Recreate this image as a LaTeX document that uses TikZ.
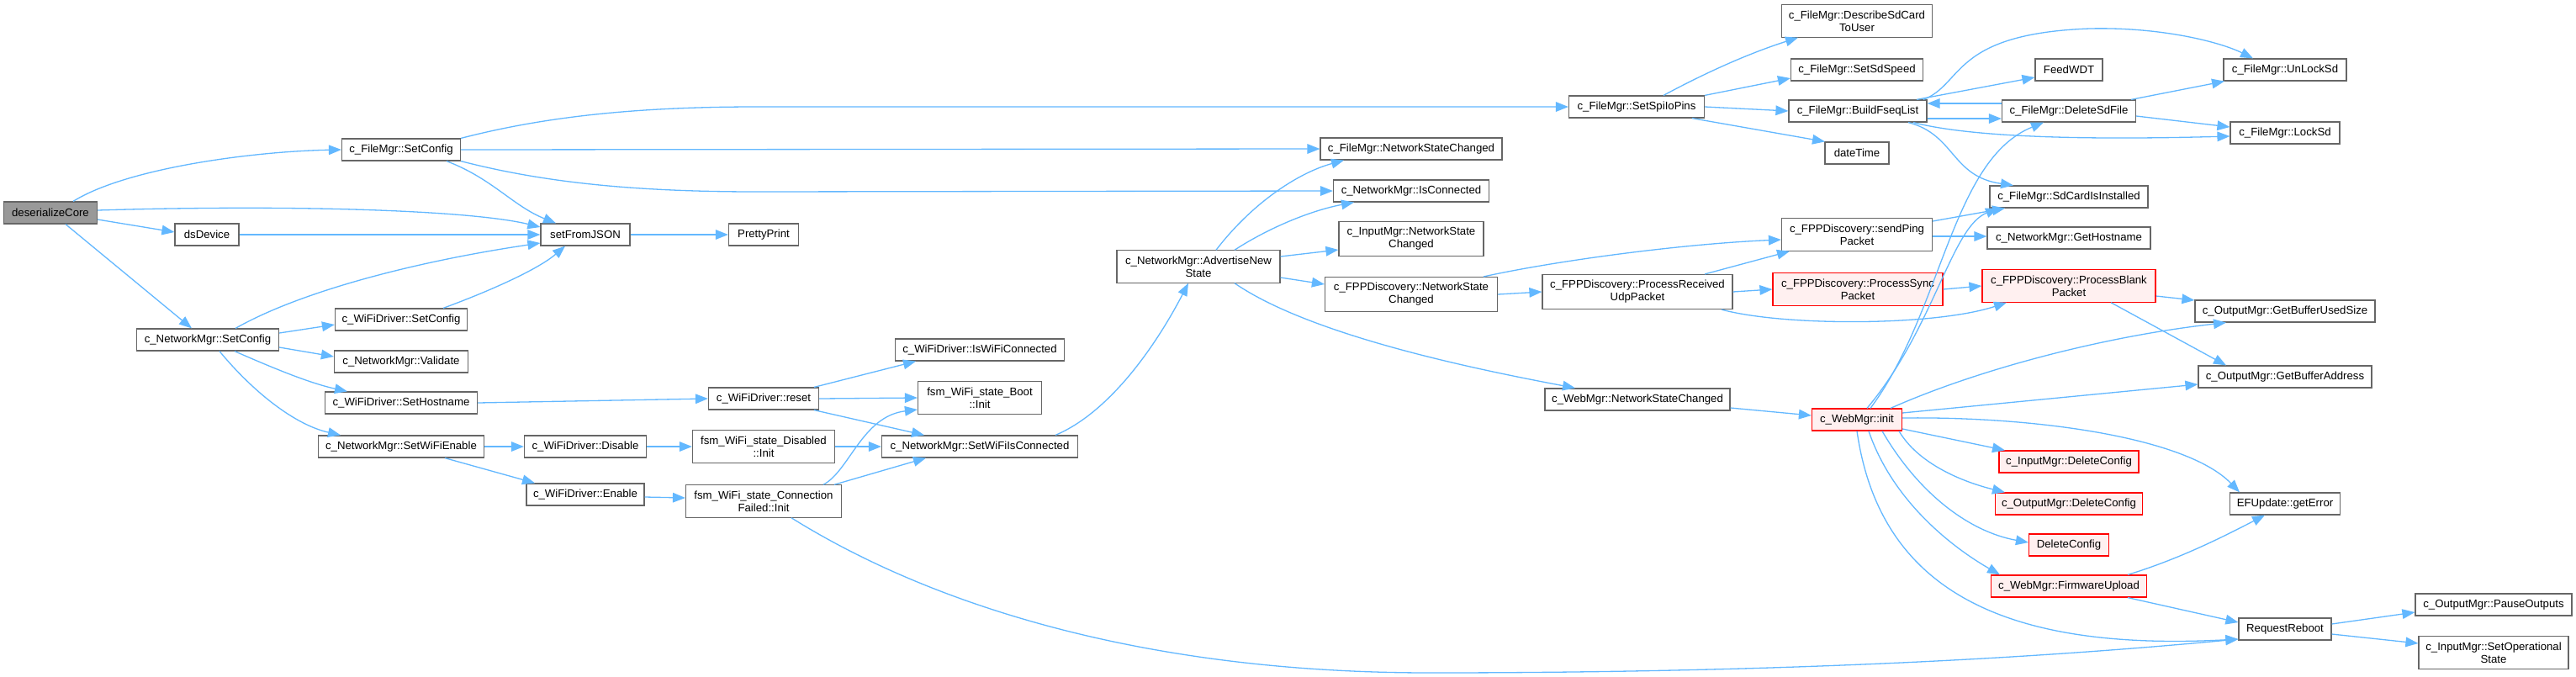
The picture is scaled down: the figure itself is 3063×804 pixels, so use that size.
\documentclass[tikz,border=0pt]{standalone}
\usepackage{fontspec}
\setmainfont{Liberation Sans}
\usetikzlibrary{arrows.meta}
\definecolor{edgeblue}{HTML}{63B8FF}
\definecolor{nodegray}{HTML}{666666}
\definecolor{rootfill}{HTML}{999999}
\definecolor{redfill}{HTML}{FFF0F0}
\definecolor{redline}{HTML}{FF0000}
\tikzset{
 fnode/.style={draw=nodegray, fill=white, line width=0.6pt, font=\fontsize{6.6}{7.5}\selectfont, inner xsep=2pt, inner ysep=3.4pt, minimum height=13pt, align=center, anchor=center},
 rednode/.style={fnode, draw=redline, fill=redfill},
 rootnode/.style={fnode, fill=rootfill},
 calledge/.style={draw=edgeblue, line width=0.65pt, -{Triangle[length=7.5pt,width=5.8pt]}},
}
\begin{document}
\begin{tikzpicture}[x=0.5pt,y=-0.5pt]
\useasboundingbox (0,0) rectangle (3063,804);
\fill[white] (0,0) rectangle (3063,804);
% nodes
\node[rootnode,minimum width=55.5pt] (core) at (60,253) {deserializeCore};
\node[fnode,minimum width=70.5pt] (fsetcfg) at (477,178) {c\_FileMgr::SetConfig};
\node[fnode,minimum width=38pt] (dsdev) at (246,279) {dsDevice};
\node[fnode,minimum width=84.5pt] (nsetcfg) at (247,404) {c\_NetworkMgr::SetConfig};
\node[fnode,minimum width=53pt] (sfj) at (696,279) {setFromJSON};
\node[fnode,minimum width=41.5pt] (pp) at (908,279) {PrettyPrint};
\node[fnode,minimum width=78.5pt] (wsetcfg) at (477,380) {c\_WiFiDriver::SetConfig};
\node[fnode,minimum width=79.5pt] (nval) at (477,430) {c\_NetworkMgr::Validate};
\node[fnode,minimum width=90.5pt] (wsethost) at (477,479) {c\_WiFiDriver::SetHostname};
\node[fnode,minimum width=98.5pt] (nsetwe) at (477,531) {c\_NetworkMgr::SetWiFiEnable};
\node[fnode,minimum width=72.5pt] (wdis) at (696,531) {c\_WiFiDriver::Disable};
\node[fnode,minimum width=70pt] (wen) at (696,588) {c\_WiFiDriver::Enable};
\node[fnode,minimum width=65.5pt] (wreset) at (908,474) {c\_WiFiDriver::reset};
\node[fnode,minimum width=84.5pt] (fsmdis) at (908,531) {fsm\_WiFi\_state\_Disabled\\::Init};
\node[fnode,minimum width=92.5pt] (fsmcf) at (908,596) {fsm\_WiFi\_state\_Connection\\Failed::Init};
\node[fnode,minimum width=100.5pt] (wisconn) at (1165,416) {c\_WiFiDriver::IsWiFiConnected};
\node[fnode,minimum width=73.5pt] (fsmboot) at (1165,473) {fsm\_WiFi\_state\_Boot\\::Init};
\node[fnode,minimum width=116.5pt] (nsetwic) at (1165,531) {c\_NetworkMgr::SetWiFiIsConnected};
\node[fnode,minimum width=97pt] (adv) at (1425,317) {c\_NetworkMgr::AdvertiseNew\\State};
\node[fnode,minimum width=108pt] (fnsc) at (1678,177) {c\_FileMgr::NetworkStateChanged};
\node[fnode,minimum width=92.5pt] (nisconn) at (1678,227) {c\_NetworkMgr::IsConnected};
\node[fnode,minimum width=86pt] (insc) at (1678,284) {c\_InputMgr::NetworkState\\Changed};
\node[fnode,minimum width=102.5pt] (fppnsc) at (1678,350) {c\_FPPDiscovery::NetworkState\\Changed};
\node[fnode,minimum width=110pt] (wnsc) at (1947,475) {c\_WebMgr::NetworkStateChanged};
\node[fnode,minimum width=80.5pt] (spiio) at (1946,127) {c\_FileMgr::SetSpiIoPins};
\node[fnode,minimum width=113pt] (prudp) at (1947,347) {c\_FPPDiscovery::ProcessReceived\\UdpPacket};
\node[fnode,minimum width=89.5pt] (desc) at (2208,25) {c\_FileMgr::DescribeSdCard\\ToUser};
\node[fnode,minimum width=78.5pt] (sdspeed) at (2208,83) {c\_FileMgr::SetSdSpeed};
\node[fnode,minimum width=82pt] (bfl) at (2209,132) {c\_FileMgr::BuildFseqList};
\node[fnode,minimum width=38pt] (datetime) at (2208,182) {dateTime};
\node[fnode,minimum width=89.5pt] (ping) at (2208,279) {c\_FPPDiscovery::sendPing\\Packet};
\node[rednode,minimum width=101pt] (psync) at (2209,344) {c\_FPPDiscovery::ProcessSync\\Packet};
\node[rednode,minimum width=53.5pt] (webinit) at (2208,499) {c\_WebMgr::init};
\node[fnode,minimum width=40pt] (feedwdt) at (2460,83) {FeedWDT};
\node[fnode,minimum width=79.5pt] (delsd) at (2460,132) {c\_FileMgr::DeleteSdFile};
\node[fnode,minimum width=94pt] (sdinst) at (2460,234) {c\_FileMgr::SdCardIsInstalled};
\node[fnode,minimum width=97pt] (gethost) at (2460,283) {c\_NetworkMgr::GetHostname};
\node[rednode,minimum width=103pt] (pblank) at (2460,340) {c\_FPPDiscovery::ProcessBlank\\Packet};
\node[rednode,minimum width=83pt] (idelcfg) at (2460,549) {c\_InputMgr::DeleteConfig};
\node[rednode,minimum width=87.5pt] (odelcfg) at (2460,599) {c\_OutputMgr::DeleteConfig};
\node[rednode,minimum width=47.5pt] (delcfg) at (2460,648) {DeleteConfig};
\node[rednode,minimum width=92.5pt] (fwup) at (2460,697) {c\_WebMgr::FirmwareUpload};
\node[fnode,minimum width=73pt] (unlock) at (2717,83) {c\_FileMgr::UnLockSd};
\node[fnode,minimum width=65pt] (lock) at (2717,158) {c\_FileMgr::LockSd};
\node[fnode,minimum width=107pt] (gbus) at (2717,370) {c\_OutputMgr::GetBufferUsedSize};
\node[fnode,minimum width=103pt] (gba) at (2717,448) {c\_OutputMgr::GetBufferAddress};
\node[fnode,minimum width=65.5pt] (geterr) at (2717,599) {EFUpdate::getError};
\node[fnode,minimum width=55pt] (reboot) at (2717,748) {RequestReboot};
\node[fnode,minimum width=93pt] (pause) at (2965,719) {c\_OutputMgr::PauseOutputs};
\node[fnode,minimum width=89pt] (setop) at (2965,776) {c\_InputMgr::SetOperational\\State};
% edges
\draw[calledge] ([xshift=13.5pt]core.north) .. controls (150,200) and (300,180) .. (fsetcfg.west);
\draw[calledge] ([yshift=1.5pt]core.east) .. controls (350,243) and (560,250) .. ([yshift=4.5pt]sfj.west);
\draw[calledge] ([yshift=-4pt]core.east) -- ([yshift=1.5pt]dsdev.west);
\draw[calledge] ([xshift=9pt]core.south) -- ([xshift=-9.5pt]nsetcfg.north);
\draw[calledge] (dsdev.east) -- (sfj.west);
\draw[calledge] ([xshift=27pt]fsetcfg.south) .. controls (585,212) and (610,245) .. ([xshift=-17.5pt]sfj.north);
\draw[calledge] (fsetcfg.north east) .. controls (650,138) and (760,127) .. (900,127) -- (spiio.west);
\draw[calledge] (fsetcfg.east) -- (fnsc.west);
\draw[calledge] (fsetcfg.south east) .. controls (650,218) and (760,228) .. (900,228) -- (nisconn.west);
\draw[calledge] ([xshift=16.5pt]nsetcfg.north) .. controls (360,345) and (500,310) .. ([yshift=-5pt]sfj.west);
\draw[calledge] ([xshift=25pt]wsetcfg.north) .. controls (585,345) and (640,320) .. ([xshift=-12pt]sfj.south);
\draw[calledge] (sfj.east) -- (pp.west);
\draw[calledge] ([yshift=4pt]nsetcfg.east) -- ([yshift=-3pt]wsetcfg.west);
\draw[calledge] ([yshift=-4.5pt]nsetcfg.east) -- ([yshift=3pt]nval.west);
\draw[calledge] ([xshift=16pt]nsetcfg.south) .. controls (330,440) and (370,456) .. ([xshift=-32pt]wsethost.north);
\draw[calledge] ([xshift=7pt]nsetcfg.south) .. controls (300,465) and (350,505) .. ([xshift=-36pt]nsetwe.north);
\draw[calledge] (wsethost.east) -- (wreset.west);
\draw[calledge] (nsetwe.east) -- (wdis.west);
\draw[calledge] ([xshift=26pt]nsetwe.south) -- ([xshift=-30pt]wen.north);
\draw[calledge] (wdis.east) -- (fsmdis.west);
\draw[calledge] ([yshift=-1.5pt]wen.east) -- ([yshift=2pt]fsmcf.west);
\draw[calledge] ([xshift=30pt]wreset.north) -- ([xshift=-38pt]wisconn.south);
\draw[calledge] (wreset.east) -- (fsmboot.west);
\draw[calledge] ([xshift=30pt]wreset.south) -- ([xshift=-33pt]nsetwic.north);
\draw[calledge] (fsmdis.east) -- (nsetwic.west);
\draw[calledge] ([xshift=35.5pt]fsmcf.north) .. controls (1010,560) and (1025,495) .. ([yshift=-7pt]fsmboot.west);
\draw[calledge] ([xshift=42pt]fsmcf.north) -- ([xshift=-32pt]nsetwic.south);
\draw[calledge] ([xshift=16.5pt]fsmcf.south) .. controls (1100,715) and (1350,800) .. (1700,800) .. controls (2200,800) and (2500,775) .. ([yshift=-6pt]reboot.west);
\draw[calledge] ([xshift=45pt]nsetwic.north) .. controls (1320,490) and (1375,410) .. ([xshift=-6pt]adv.south);
\draw[calledge] ([xshift=10.5pt]adv.north) .. controls (1490,240) and (1545,205) .. ([xshift=-40pt]fnsc.south);
\draw[calledge] ([xshift=21.5pt]adv.north) .. controls (1510,270) and (1560,250) .. ([xshift=-34pt]nisconn.south);
\draw[calledge] ([yshift=6pt]adv.east) -- ([yshift=-6.5pt]insc.west);
\draw[calledge] ([yshift=-6.5pt]adv.east) -- ([yshift=6pt]fppnsc.west);
\draw[calledge] ([xshift=21.5pt]adv.south) .. controls (1560,400) and (1760,440) .. ([xshift=-37pt]wnsc.north);
\draw[calledge] ([xshift=43pt]fppnsc.north) .. controls (1850,310) and (2000,290) .. ([yshift=-3pt]ping.west);
\draw[calledge] (fppnsc.east) -- (prudp.west);
\draw[calledge] ([xshift=40pt]prudp.north) -- ([xshift=-40pt]ping.south);
\draw[calledge] (prudp.east) -- (psync.west);
\draw[calledge] ([xshift=50pt]prudp.south) .. controls (2120,388) and (2300,388) .. ([xshift=-37pt]pblank.south);
\draw[calledge] (psync.east) -- (pblank.west);
\draw[calledge] ([yshift=8pt]ping.east) -- ([xshift=-38pt]sdinst.south);
\draw[calledge] ([yshift=-1pt]ping.east) -- ([yshift=1pt]gethost.west);
\draw[calledge] ([xshift=16pt]spiio.north) .. controls (2040,80) and (2090,60) .. ([xshift=-35pt]desc.south);
\draw[calledge] (spiio.north east) -- ([yshift=-5pt]sdspeed.west);
\draw[calledge] (spiio.east) -- (bfl.west);
\draw[calledge] ([xshift=33pt]spiio.south) -- ([xshift=-19pt]datetime.north);
\draw[calledge] ([xshift=35pt]bfl.north) -- ([yshift=-4.5pt]feedwdt.west);
\draw[calledge] ([xshift=39pt]bfl.north) .. controls (2335,100) and (2320,40) .. (2485,34) .. controls (2570,32) and (2640,50) .. ([xshift=-19pt]unlock.north);
\draw[calledge] ([yshift=4.5pt]delsd.west) -- ([yshift=4.5pt]bfl.east);
\draw[calledge] ([yshift=-4.5pt]bfl.east) -- ([yshift=-4.5pt]delsd.west);
\draw[calledge] ([xshift=33pt]bfl.south) .. controls (2350,165) and (2500,166) .. ([yshift=-2pt]lock.west);
\draw[calledge] ([xshift=30pt]bfl.south) .. controls (2325,160) and (2320,210) .. ([xshift=-33pt]sdinst.north);
\draw[calledge] ([xshift=37pt]delsd.north) -- ([xshift=-36pt]unlock.south);
\draw[calledge] ([yshift=-3pt]delsd.east) -- ([yshift=3.5pt]lock.west);
\draw[calledge] ([yshift=-5pt]wnsc.east) -- ([yshift=2.5pt]webinit.west);
\draw[calledge] ([xshift=8pt]webinit.north) .. controls (2310,370) and (2320,190) .. ([xshift=-15pt]delsd.south);
\draw[calledge] ([xshift=6pt]webinit.north) .. controls (2300,390) and (2320,270) .. ([xshift=-42pt]sdinst.south);
\draw[calledge] ([xshift=20pt]webinit.north) .. controls (2350,440) and (2500,400) .. ([xshift=-35pt]gbus.south);
\draw[calledge] ([yshift=4pt]webinit.east) -- ([yshift=-4.5pt]gba.west);
\draw[calledge] ([yshift=1pt]webinit.east) .. controls (2420,495) and (2600,520) .. ([xshift=-27pt]geterr.north);
\draw[calledge] ([yshift=-5.5pt]webinit.east) -- ([xshift=-38pt]idelcfg.north);
\draw[calledge] ([xshift=25pt]webinit.south) .. controls (2280,550) and (2330,572) .. ([xshift=-38pt]odelcfg.north);
\draw[calledge] ([xshift=15pt]webinit.south) .. controls (2280,585) and (2340,632) .. ([yshift=1.5pt]delcfg.west);
\draw[calledge] ([xshift=7pt]webinit.south) .. controls (2250,595) and (2320,650) .. ([xshift=-41pt]fwup.north);
\draw[calledge] (webinit.south) .. controls (2235,700) and (2380,775) .. ([yshift=-6pt]reboot.west);
\draw[calledge] ([yshift=-6pt]pblank.east) -- ([yshift=6.5pt]gbus.west);
\draw[calledge] ([xshift=25pt]pblank.south) -- ([xshift=-35pt]gba.north);
\draw[calledge] ([xshift=35pt]fwup.north) .. controls (2590,665) and (2640,640) .. ([xshift=-12pt]geterr.south);
\draw[calledge] ([xshift=35pt]fwup.south) -- ([yshift=4pt]reboot.west);
\draw[calledge] ([yshift=3pt]reboot.east) -- ([yshift=-4.5pt]pause.west);
\draw[calledge] ([yshift=-3pt]reboot.east) -- ([yshift=5.5pt]setop.west);
\end{tikzpicture}
\end{document}
